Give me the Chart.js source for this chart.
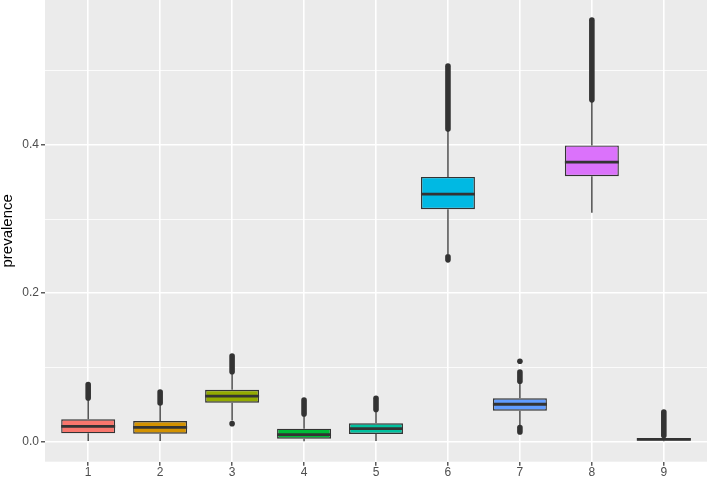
<!DOCTYPE html>
<html>
<head>
<meta charset="utf-8">
<script src="https://cdn.jsdelivr.net/npm/chart.js@4"></script>
<style>
  body { margin: 0; background: #fff; }
</style>
</head>
<body>
<canvas id="boxChart" width="708" height="478"></canvas>
<script>
// categorias y cuantiles
const grupos = ["1", "2", "3", "4", "5", "6", "7", "8", "9"];
const colores = ["#F8766D", "#D39200", "#93AA00", "#00BA38", "#00C19F", "#00B9E3", "#619CFF", "#DB72FB", "#FF61C3"];
const q1 = [0.0108, 0.0103, 0.0521, 0.0035, 0.0099, 0.3133, 0.0413, 0.3580, 0.0010];
const mediana = [0.0202, 0.0189, 0.0611, 0.0090, 0.0170, 0.3337, 0.0500, 0.3770, 0.0025];
const q3 = [0.0297, 0.0274, 0.0696, 0.0170, 0.0243, 0.3570, 0.0580, 0.3995, 0.0040];
const bigoteBajo = [0.0003, 0.0003, 0.0280, 0.0002, 0.0004, 0.2530, 0.0220, 0.3085, 0.0000];
const bigoteAlto = [0.0580, 0.0510, 0.0920, 0.0360, 0.0420, 0.4200, 0.0790, 0.4600, 0.0070];
// tramos de atipicos [desde, hasta]; un punto suelto tiene desde == hasta
const atipicos = [
  [[0.0584, 0.0767]],
  [[0.0517, 0.0665]],
  [[0.0238, 0.0238], [0.0940, 0.1150]],
  [[0.0368, 0.0557]],
  [[0.0430, 0.0580]],
  [[0.2450, 0.2490], [0.4215, 0.5065]],
  [[0.0125, 0.0186], [0.0810, 0.0935], [0.1080, 0.1080]],
  [[0.4610, 0.5686]],
  [[0.0080, 0.0395]]
];
const ticksY = [0, 0.1, 0.2, 0.3, 0.4, 0.5];

const esMayor = v => Math.abs(v / 0.2 - Math.round(v / 0.2)) < 1e-6;

// fondo gris del panel
const fondoPanel = {
  id: "fondoPanel",
  beforeDraw(chart) {
    const { ctx, chartArea: a } = chart;
    ctx.save();
    ctx.fillStyle = "#EBEBEB";
    ctx.fillRect(a.left, a.top, a.right - a.left, a.bottom - a.top);
    ctx.restore();
  }
};

// bigotes, atipicos y medianas
const cajas = {
  id: "cajas",
  beforeDatasetsDraw(chart) {
    const { ctx, scales: { x, y } } = chart;
    ctx.save();
    ctx.strokeStyle = "#333333";
    ctx.fillStyle = "#333333";
    grupos.forEach((g, i) => {
      const px = x.getPixelForValue(i + 1);
      ctx.lineWidth = 1.3;
      ctx.lineCap = "butt";
      ctx.beginPath();
      ctx.moveTo(px, y.getPixelForValue(q3[i]));
      ctx.lineTo(px, y.getPixelForValue(bigoteAlto[i]));
      ctx.moveTo(px, y.getPixelForValue(q1[i]));
      ctx.lineTo(px, y.getPixelForValue(bigoteBajo[i]));
      ctx.stroke();

      atipicos[i].forEach(([a, b]) => {
        const ya = y.getPixelForValue(a);
        const yb = y.getPixelForValue(b);
        if (Math.abs(ya - yb) < 0.5) {
          ctx.beginPath();
          ctx.arc(px, ya, 2.8, 0, Math.PI * 2);
          ctx.fill();
        } else {
          ctx.lineWidth = 5.6;
          ctx.lineCap = "round";
          ctx.beginPath();
          ctx.moveTo(px, ya);
          ctx.lineTo(px, yb);
          ctx.stroke();
        }
      });
    });
    ctx.restore();
  },
  afterDatasetsDraw(chart) {
    const { ctx, scales: { x, y } } = chart;
    const meta = chart.getDatasetMeta(0);
    ctx.save();
    ctx.strokeStyle = "#333333";
    ctx.lineWidth = 2.8;
    grupos.forEach((g, i) => {
      const bar = meta.data[i];
      const half = bar.width / 2;
      const px = x.getPixelForValue(i + 1);
      const py = y.getPixelForValue(mediana[i]);
      ctx.beginPath();
      ctx.moveTo(px - half, py);
      ctx.lineTo(px + half, py);
      ctx.stroke();
    });
    ctx.restore();
  }
};

const sinPadding = s => {
  s.paddingTop = 0;
  s.paddingBottom = 0;
  s.paddingLeft = 0;
  s.paddingRight = 0;
};

const ctx = document.getElementById("boxChart").getContext("2d");

new Chart(ctx, {
  type: "bar",
  data: {
    datasets: [{
      data: grupos.map((g, i) => ({ x: i + 1, y: [q1[i], q3[i]] })),
      backgroundColor: colores,
      borderColor: "#333333",
      borderWidth: 1.4,
      borderSkipped: false,
      barPercentage: 0.75,
      categoryPercentage: 1
    }]
  },
  options: {
    responsive: false,
    animation: false,
    layout: { padding: { top: 0, right: 1, bottom: 0, left: 0 } },
    plugins: {
      legend: { display: false },
      tooltip: { enabled: false }
    },
    scales: {
      x: {
        type: "linear",
        min: 0.4,
        max: 9.6,
        offset: false,
        afterBuildTicks: s => { s.ticks = grupos.map((g, i) => ({ value: i + 1 })); },
        afterFit: s => { s.height = 16.3; sinPadding(s); },
        border: { display: false },
        grid: {
          offset: false,
          color: "#FFFFFF",
          lineWidth: 1.6,
          tickLength: 4,
          tickColor: "#333333",
          tickWidth: 1.2
        },
        ticks: {
          autoSkip: false,
          maxRotation: 0,
          padding: 0,
          color: "#4D4D4D",
          font: { family: "'Liberation Sans', Arial, sans-serif", size: 12 },
          callback: v => grupos[Math.round(v) - 1]
        }
      },
      y: {
        min: -0.02754,
        max: 0.5958,
        afterBuildTicks: s => { s.ticks = ticksY.map(v => ({ value: v })); },
        afterFit: s => { s.width = 45; sinPadding(s); },
        border: { display: false },
        grid: {
          color: "#FFFFFF",
          lineWidth: c => esMayor(c.tick.value) ? 1.6 : 0.8,
          tickLength: 4,
          tickColor: c => esMayor(c.tick.value) ? "#333333" : "rgba(0,0,0,0)",
          tickWidth: 1.2
        },
        ticks: {
          autoSkip: false,
          padding: 2,
          color: "#4D4D4D",
          font: { family: "'Liberation Sans', Arial, sans-serif", size: 12 },
          callback: v => esMayor(v) ? v.toFixed(1) : ""
        },
        title: {
          display: true,
          text: "prevalence",
          color: "#000000",
          padding: 0,
          font: { family: "'Liberation Sans', Arial, sans-serif", size: 15, lineHeight: 1 }
        }
      }
    }
  },
  plugins: [fondoPanel, cajas]
});
</script>
</body>
</html>
